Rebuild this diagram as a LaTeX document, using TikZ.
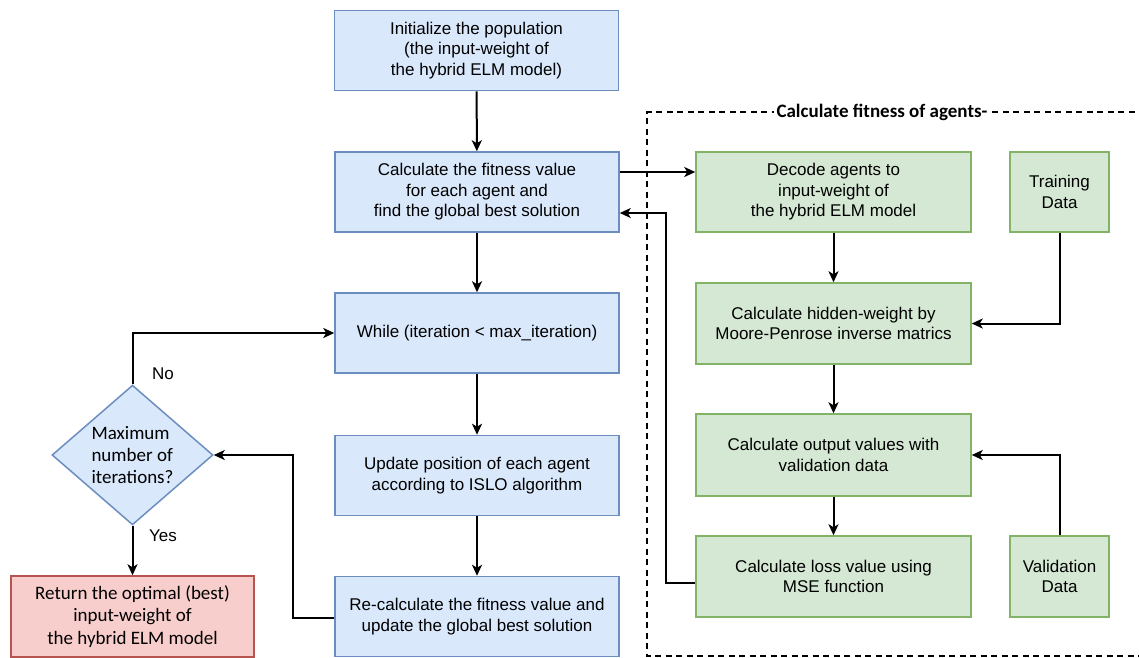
\documentclass[tikz,border=0pt]{standalone}
\usepackage{fontspec}
\setmainfont{Liberation Sans}
\newfontfamily\carlitofont{Carlito}
\usetikzlibrary{shapes.geometric,arrows.meta}
\definecolor{bfill}{HTML}{DAE8FC}\definecolor{bdraw}{HTML}{6C8EBF}
\definecolor{gfill}{HTML}{D5E8D4}\definecolor{gdraw}{HTML}{82B366}
\definecolor{rfill}{HTML}{F8CECC}\definecolor{rdraw}{HTML}{B85450}
\tikzset{
  txt/.style={font=\fontsize{17}{20.5}\selectfont, align=center, inner sep=0pt},
  bluebox/.style={txt, draw=bdraw, fill=bfill, line width=1.5pt, minimum width=284pt, minimum height=80pt},
  greenbox/.style={txt, draw=gdraw, fill=gfill, line width=1.5pt, minimum width=275pt, minimum height=81pt},
  databox/.style={greenbox, minimum width=99pt},
  redbox/.style={draw=rdraw, fill=rfill, line width=1.5pt, minimum width=243pt, minimum height=81pt, inner sep=0pt, align=center, font=\carlitofont\fontsize{19}{22.3}\selectfont},
  decis/.style={diamond, draw=bdraw, fill=bfill, line width=1.5pt, minimum width=161pt, minimum height=122pt, inner sep=0pt, align=left, font=\carlitofont\fontsize{19}{22.3}\selectfont},
  arr/.style={line width=2pt, -{Stealth[length=11pt,width=10pt,inset=3pt]}},
  lbl/.style={font=\fontsize{17}{20.5}\selectfont, inner sep=0pt},
  dbox/.style={line width=1.6pt, dash pattern=on 6pt off 4.5pt}
}
\begin{document}
\begin{tikzpicture}[x=1pt,y=-1pt]
\useasboundingbox (0,0) rectangle (1139,657);
% dashed frame
\draw[dbox] (1145,112) -- (647,112) -- (647,656) -- (1145,656);
\node[fill=white, inner sep=3pt, font=\carlitofont\bfseries\fontsize{19}{22}\selectfont] (title) at (882,112) {Calculate fitness of agents-};
% blue column
\node[bluebox] (init) at (476.5,50.5) {Initialize the population\\(the input-weight of\\the hybrid ELM model)};
\node[bluebox] (fit) at (477,192) {Calculate the fitness value\\for each agent and\\find the global best solution};
\node[bluebox] (while) at (477,333) {While (iteration < max\_iteration)};
\node[bluebox] (upd) at (477,475.5) {Update position of each agent\\according to ISLO algorithm};
\node[bluebox] (recalc) at (477,616.5) {Re-calculate the fitness value and\\update the global best solution};
% decision and result
\node[decis] (dia) at (132.5,455) {Maximum\\number of\\iterations?};
\node[redbox] (ret) at (132.5,616.5) {Return the optimal (best)\\input-weight of\\the hybrid ELM model};
% green column
\node[greenbox, minimum height=80pt] (dec) at (833.5,192) {Decode agents to\\input-weight of\\the hybrid ELM model};
\node[greenbox] (hid) at (833.5,323.5) {Calculate hidden-weight by\\Moore-Penrose inverse matrics};
\node[greenbox, minimum height=82pt] (outv) at (833.5,455) {Calculate output values with\\validation data};
\node[greenbox] (loss) at (833.5,576.5) {Calculate loss value using\\MSE function};
\node[databox, minimum height=80pt] (train) at (1059.5,192) {Training\\Data};
\node[databox] (valid) at (1059.5,576.5) {Validation\\Data};
% arrows
\draw[arr] (init) -- (fit);
\draw[arr] (fit) -- (while);
\draw[arr] (while) -- (upd);
\draw[arr] (upd) -- (recalc);
\draw[arr] ([yshift=-1.5pt]recalc.west) -- ++(-41,0) |- (dia.east);
\draw[arr] (dia.north) |- (while.west);
\draw[arr] (dia.south) -- (ret.north);
\node[lbl] (no) at (163,374) {No};
\node[lbl] (yes) at (163,536) {Yes};
\draw[arr] ([yshift=20pt]fit.east) -- ([yshift=20pt]fit.east -| dec.west);
\draw[arr] ([yshift=-6.5pt]loss.west) -- ++(-29,0) |- ([yshift=-21pt]fit.east);
\draw[arr] (dec) -- (hid);
\draw[arr] (hid) -- (outv);
\draw[arr] (outv) -- (loss);
\draw[arr] (train.south) |- (hid.east);
\draw[arr] (valid.north) |- (outv.east);
\end{tikzpicture}
\end{document}
